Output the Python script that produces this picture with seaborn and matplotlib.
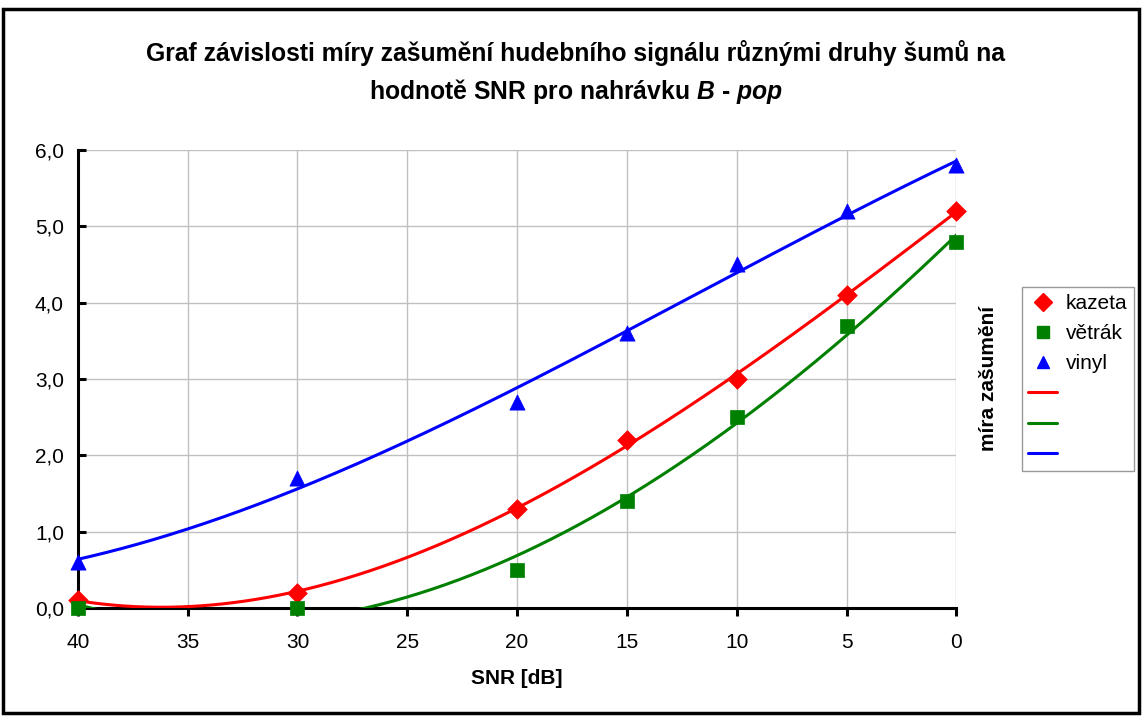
import numpy as np
import pandas as pd
import matplotlib
matplotlib.use("Agg")
import matplotlib.pyplot as plt
from matplotlib.lines import Line2D
from matplotlib.patches import Rectangle
import seaborn as sns

snr = [40, 30, 20, 15, 10, 5, 0]
kazeta = [0.1, 0.2, 1.3, 2.2, 3.0, 4.1, 5.2]
vetrak = [0.0, 0.0, 0.5, 1.4, 2.5, 3.7, 4.8]
vinyl = [0.6, 1.7, 2.7, 3.6, 4.5, 5.2, 5.8]

names = ["kazeta", "větrák", "vinyl"]
colors = ["#ff0000", "#008000", "#0000ff"]
markers = ["D", "s", "^"]
msizes = [100, 100, 120]


def main():
    sns.set_style("white")
    plt.rcParams['font.family'] = ['Liberation Sans', 'DejaVu Sans']
    plt.rcParams['mathtext.fontset'] = 'custom'
    plt.rcParams['mathtext.bfit'] = 'Liberation Sans:bold:italic'
    plt.rcParams['mathtext.it'] = 'Liberation Sans:italic'
    plt.rcParams['mathtext.rm'] = 'Liberation Sans'
    plt.rcParams['mathtext.bf'] = 'Liberation Sans:bold'
    for key in ['text.color', 'axes.labelcolor', 'xtick.color', 'ytick.color']:
        plt.rcParams[key] = 'black'

    fig = plt.figure(figsize=(11.44, 7.16), dpi=100)
    ax = fig.add_axes([0.068, 0.151, 0.768, 0.6395])

    series = [kazeta, vetrak, vinyl]
    xs = np.linspace(0, 40, 400)
    for i in range(len(series)):
        # polynomial trend line (order 3), like the spreadsheet trendline
        coef = np.polyfit(snr, series[i], 3)
        fit = pd.DataFrame({"x": xs, "y": np.polyval(coef, xs)})
        sns.lineplot(data=fit, x="x", y="y", color=colors[i], linewidth=2.2,
                     ax=ax, zorder=3)
    for i in range(len(series)):
        df = pd.DataFrame({"x": snr, "y": series[i]})
        sns.scatterplot(data=df, x="x", y="y", color=colors[i], marker=markers[i],
                        s=msizes[i], edgecolor=colors[i], linewidth=0.5,
                        ax=ax, zorder=4, clip_on=False)

    ax.set_xlim(40, 0)
    ax.set_ylim(0, 6)
    ax.set_xticks(range(0, 41, 5))
    ax.set_yticks(np.arange(0, 6.1, 1))
    ax.set_yticklabels([("%.1f" % v).replace(".", ",") for v in np.arange(0, 6.1, 1)])
    ax.grid(True, color="#c0c0c0", linewidth=1.0)
    ax.set_axisbelow(True)
    for s in ["top", "right"]:
        ax.spines[s].set_visible(False)
    for s in ["left", "bottom"]:
        ax.spines[s].set_color("black")
        ax.spines[s].set_linewidth(2.2)
        ax.spines[s].set_zorder(2)
    ax.tick_params(axis="y", direction="in", length=6, width=2.2, labelsize=15, pad=10)
    ax.tick_params(axis="x", direction="out", length=6, width=2.2, labelsize=15, pad=12)
    ax.tick_params(left=True, bottom=True)

    ax.set_xlabel("SNR [dB]", fontsize=15, fontweight="bold", labelpad=12)
    ax.set_ylabel("")
    fig.text(0.8645, 0.472, "míra zašumění", rotation=90, fontsize=15,
             fontweight="bold", ha="center", va="center")

    fig.suptitle("Graf závislosti míry zašumění hudebního signálu různými druhy šumů na\n"
                 "hodnotě SNR pro nahrávku $\\mathbfit{B}$ - $\\mathbfit{pop}$",
                 x=0.503, y=0.944, fontsize=17.8, fontweight="bold", linespacing=1.48)

    handles = []
    labels = []
    for i in range(3):
        handles.append(Line2D([], [], linestyle="none", marker=markers[i], color=colors[i],
                              markersize=9))
        labels.append(names[i])
    for i in range(3):
        handles.append(Line2D([], [], color=colors[i], linewidth=2.2))
        labels.append(" ")
    leg = fig.legend(handles, labels, loc="upper left", bbox_to_anchor=(0.893, 0.599),
                     fontsize=15, frameon=True, fancybox=False, handlelength=1.35,
                     labelspacing=0.54, borderpad=0.33, handletextpad=0.45,
                     borderaxespad=0)
    leg.get_frame().set_edgecolor("#808080")
    leg.get_frame().set_linewidth(1.0)

    fig.patches.append(Rectangle((0.003, 0.004), 0.993, 0.983, transform=fig.transFigure,
                                 fill=False, edgecolor="black", linewidth=2.5))

    fig.savefig("out.png", dpi=100)
    plt.close(fig)


if __name__ == "__main__":
    main()
